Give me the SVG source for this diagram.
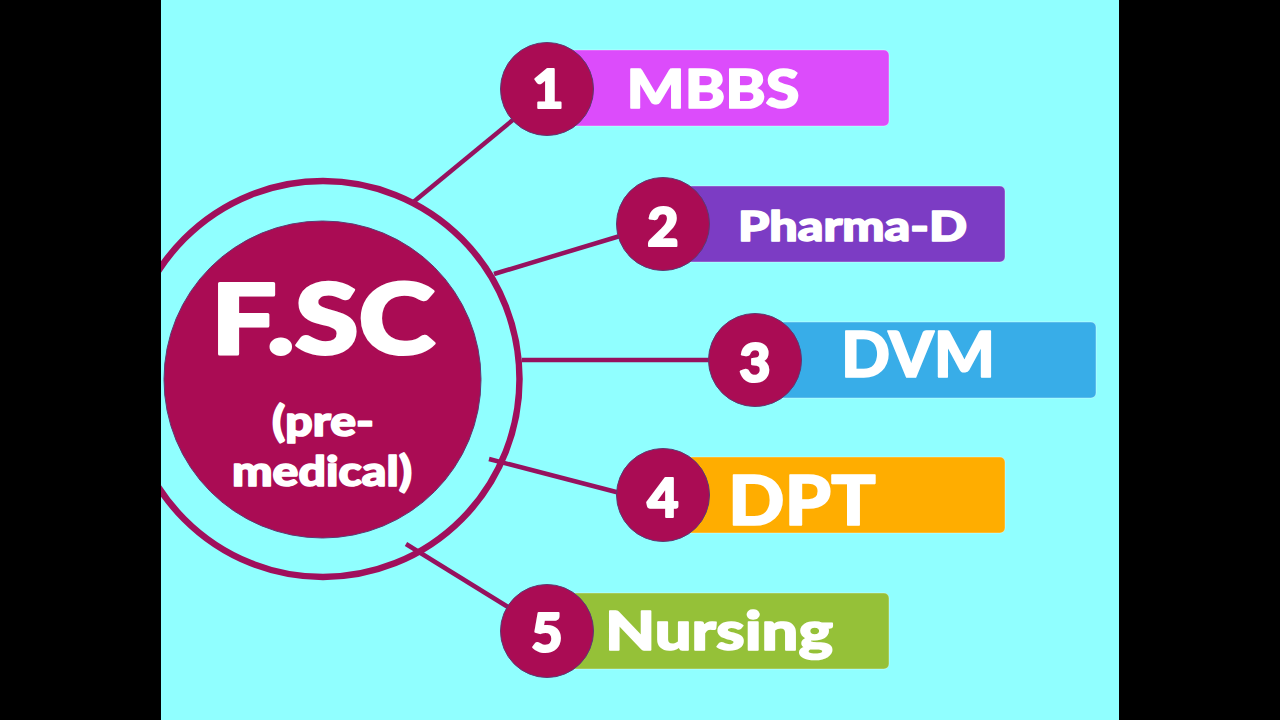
<svg xmlns="http://www.w3.org/2000/svg" width="1280" height="720" viewBox="0 0 1280 720">
<style>
text{font-family:"Lato","Liberation Sans",sans-serif;font-weight:900;fill:#fff;stroke:#fff;stroke-width:1.6;stroke-linejoin:round;text-anchor:middle}
.disc{fill:#aa0c54;stroke:#5c3a72;stroke-width:1}
.bar{stroke:#ffffff;stroke-opacity:.35;stroke-width:1}
.num{font-size:54px;stroke-width:2.200px}
.link{stroke:#96115f;stroke-width:4.500;fill:none}
</style>
<defs><clipPath id="stage"><rect x="161" y="0" width="958" height="720"/></clipPath></defs>
<rect width="1280" height="720" fill="#000"/>
<rect x="161" y="0" width="958" height="720" fill="#90ffff"/>
<g id="connectors">
<line class="link" x1="411" y1="204" x2="514" y2="119"/>
<line class="link" x1="494" y1="274" x2="620" y2="236"/>
<line class="link" x1="522" y1="360" x2="710" y2="360"/>
<line class="link" x1="489" y1="459" x2="620" y2="493"/>
<line class="link" x1="406" y1="544" x2="508" y2="607"/>
</g>
<g id="hub" clip-path="url(#stage)">
<ellipse cx="323" cy="379" rx="196.500" ry="198" fill="none" stroke="#a00f5c" stroke-width="6.500"/>
<circle class="disc" cx="322.500" cy="379.500" r="158.500"/>
<text x="323" y="354" font-size="98" textLength="224" lengthAdjust="spacingAndGlyphs" style="stroke-width:3">F.SC</text>
<text x="323" y="436" font-size="41" textLength="102" lengthAdjust="spacingAndGlyphs">(pre-</text>
<text x="322" y="486" font-size="41" textLength="180" lengthAdjust="spacingAndGlyphs">medical)</text>
</g>
<g id="node1">
<rect class="bar" x="560" y="50" width="329" height="76" rx="5" fill="#dc4cfb"/>
<circle class="disc" cx="547" cy="89" r="46.500"/>
<text class="num" x="548" y="108">1</text>
<text x="713" y="108" font-size="54" textLength="173" lengthAdjust="spacingAndGlyphs">MBBS</text>
</g>
<g id="node2">
<rect class="bar" x="680" y="186" width="325" height="76" rx="5" fill="#7c3cc4"/>
<circle class="disc" cx="663" cy="224" r="46.500"/>
<text class="num" x="663" y="246">2</text>
<text x="852.500" y="241" font-size="41" textLength="229" lengthAdjust="spacingAndGlyphs">Pharma-D</text>
</g>
<g id="node3">
<rect class="bar" x="770" y="322" width="326" height="76" rx="5" fill="#38ade8"/>
<circle class="disc" cx="755" cy="360" r="46.500"/>
<text class="num" x="755" y="382">3</text>
<text x="918" y="377" font-size="62" textLength="154" lengthAdjust="spacingAndGlyphs">DVM</text>
</g>
<g id="node4">
<rect class="bar" x="680" y="457" width="325" height="76" rx="5" fill="#ffad00"/>
<circle class="disc" cx="663" cy="495" r="46.500"/>
<text class="num" x="663" y="517">4</text>
<text x="802" y="525" font-size="69" textLength="148" lengthAdjust="spacingAndGlyphs">DPT</text>
</g>
<g id="node5">
<rect class="bar" x="560" y="593" width="329" height="76" rx="5" fill="#95c138"/>
<circle class="disc" cx="547" cy="631" r="46.500"/>
<text class="num" x="547" y="652">5</text>
<text x="719" y="650" font-size="54" textLength="228" lengthAdjust="spacingAndGlyphs">Nursing</text>
</g>
</svg>
